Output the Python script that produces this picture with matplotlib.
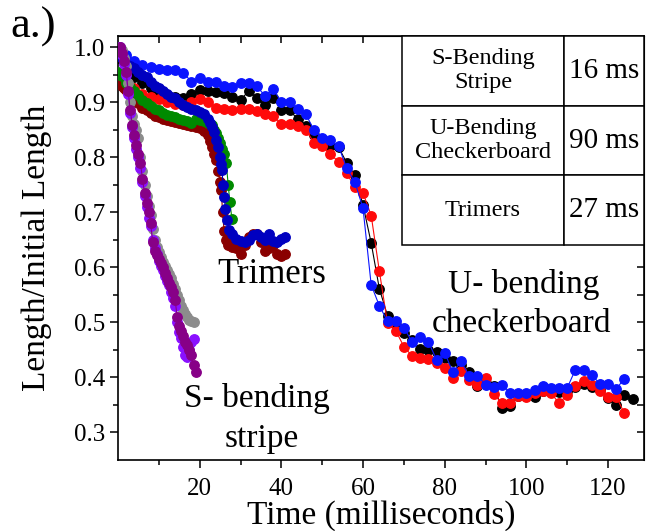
import matplotlib
matplotlib.use("Agg")
import matplotlib.pyplot as plt

plt.rcParams['font.family'] = ['Liberation Serif', 'DejaVu Serif']

# U-bending checkerboard (sampled every 2 ms)
u_time = [0, 2, 4, 6, 8, 10, 12, 14, 16, 18, 20, 22, 24, 26, 28, 30, 32, 34, 36, 38,
          40, 42, 44, 46, 48, 50, 52, 54, 56, 58, 60, 62, 64, 66, 68, 70, 72, 74, 76, 78,
          80, 82, 84, 86, 88, 90, 92, 94, 96, 98, 100, 102, 104, 106, 108, 110, 112, 114,
          116, 118, 120, 122, 124, 126]
u_black = [0.98, 0.96, 0.945, 0.935, 0.925, 0.918, 0.912, 0.91, 0.908, 0.915, 0.922, 0.92,
           0.918, 0.916, 0.909, 0.904, 0.92, 0.907, 0.894, 0.908, 0.885, 0.885, 0.869, 0.857,
           0.84, 0.832, 0.82, 0.818, 0.79, 0.767, 0.713, 0.644, 0.561, 0.512, 0.495, 0.481,
           0.468, 0.452, 0.45, 0.447, 0.435, 0.429, 0.423, 0.41, 0.384, 0.39, 0.384, 0.344,
           0.348, 0.367, 0.367, 0.365, 0.375, 0.375, 0.373, 0.375, 0.382, 0.388, 0.382, 0.378,
           0.362, 0.35, 0.368, 0.361]
u_red = [0.95, 0.935, 0.925, 0.915, 0.91, 0.905, 0.9, 0.897, 0.895, 0.9, 0.905, 0.9,
         0.889, 0.887, 0.886, 0.888, 0.887, 0.883, 0.878, 0.875, 0.86, 0.86, 0.856, 0.85,
         0.826, 0.82, 0.805, 0.792, 0.771, 0.745, 0.735, 0.694, 0.593, 0.498, 0.485, 0.456,
         0.439, 0.435, 0.433, 0.427, 0.417, 0.399, 0.411, 0.395, 0.387, 0.399, 0.37, 0.353,
         0.353, 0.367, 0.365, 0.372, 0.375, 0.372, 0.353, 0.368, 0.385, 0.393, 0.387, 0.375,
         0.365, 0.365, 0.335]
u_blue = [1.0, 0.985, 0.975, 0.968, 0.963, 0.96, 0.958, 0.958, 0.953, 0.937, 0.944, 0.937,
          0.937, 0.93, 0.927, 0.935, 0.935, 0.929, 0.911, 0.924, 0.9, 0.9, 0.887, 0.878,
          0.849, 0.835, 0.831, 0.82, 0.78, 0.755, 0.707, 0.568, 0.53, 0.502, 0.502, 0.49,
          0.465, 0.473, 0.465, 0.432, 0.445, 0.409, 0.429, 0.403, 0.403, 0.387, 0.382, 0.387,
          0.372, 0.372, 0.372, 0.378, 0.385, 0.381, 0.381, 0.381, 0.414, 0.414, 0.405, 0.388,
          0.388, 0.379, 0.398]

# Trimers
t_blue_x = [0, 0.5, 1, 1.5, 2, 3, 4, 5, 6, 7, 8, 9, 10, 11, 12, 13, 14, 15, 16, 17, 18, 19,
            20, 21, 22, 22.5, 23, 23.5, 24, 24.5, 25, 25.3, 25.5, 25.7, 26, 26.3, 26.7, 27.2,
            28, 29, 30, 31, 32, 33, 34, 35, 36, 37, 38, 39, 40, 41]
t_blue_y = [1.0, 0.99, 0.98, 0.975, 0.97, 0.965, 0.962, 0.955, 0.95, 0.945, 0.937, 0.93,
            0.925, 0.92, 0.915, 0.91, 0.907, 0.9, 0.895, 0.891, 0.888, 0.885, 0.882, 0.878,
            0.87, 0.862, 0.855, 0.845, 0.831, 0.818, 0.8, 0.787, 0.776, 0.75, 0.727, 0.706,
            0.685, 0.668, 0.66, 0.652, 0.648, 0.645, 0.65, 0.658, 0.66, 0.655, 0.65, 0.66,
            0.648, 0.645, 0.652, 0.655]
t_red_x = [0.5, 1, 1.5, 2, 3, 4, 5, 6, 7, 8, 9, 10, 11, 12, 13, 14, 15, 16, 17, 18, 19, 20,
           21, 22, 22.5, 23, 23.5, 24, 24.5, 25, 25.3, 25.6, 26, 26.5, 27, 28, 29, 30, 31, 32,
           33, 34, 35, 36, 37, 38, 39, 40, 41]
t_red_y = [0.94, 0.93, 0.925, 0.922, 0.912, 0.905, 0.898, 0.89, 0.885, 0.88, 0.875, 0.872,
           0.87, 0.868, 0.866, 0.864, 0.862, 0.86, 0.858, 0.857, 0.855, 0.853, 0.848, 0.84,
           0.83, 0.818, 0.805, 0.795, 0.775, 0.755, 0.74, 0.7, 0.665, 0.65, 0.64, 0.637, 0.635,
           0.625, 0.64, 0.655, 0.66, 0.66, 0.645, 0.63, 0.635, 0.64, 0.625, 0.62, 0.625]
t_green_x = [0, 0.5, 1, 2, 3, 4, 5, 6, 7, 8, 9, 10, 11, 12, 13, 14, 15, 16, 17, 18, 19, 20,
             21, 22, 23, 23.5, 24, 24.5, 25, 25.5, 26, 26.5, 27, 27.4, 27.9]
t_green_y = [0.955, 0.95, 0.948, 0.935, 0.927, 0.92, 0.912, 0.904, 0.898, 0.893, 0.888,
             0.885, 0.88, 0.877, 0.874, 0.872, 0.87, 0.868, 0.866, 0.862, 0.87, 0.868, 0.865,
             0.862, 0.858, 0.85, 0.844, 0.835, 0.825, 0.815, 0.805, 0.789, 0.749, 0.718, 0.688]

# S-bending stripe (sampled every 0.5 ms)
s_time = [0.5, 1, 1.5, 2, 2.5, 3, 3.5, 4, 4.5, 5, 5.5, 6, 6.5, 7, 7.5, 8, 8.5, 9, 9.5, 10,
          10.5, 11, 11.5, 12, 12.5, 13, 13.5, 14, 14.5, 15, 15.5, 16, 16.5, 17, 17.5, 18,
          18.5, 19]
s_gray = [1.0, 0.995, 0.98, 0.965, 0.935, 0.9, 0.875, 0.86, 0.85, 0.835, 0.8, 0.775, 0.75,
          0.73, 0.712, 0.695, 0.67, 0.65, 0.637, 0.627, 0.618, 0.61, 0.602, 0.595, 0.588,
          0.58, 0.57, 0.56, 0.55, 0.54, 0.53, 0.522, 0.515, 0.51, 0.505, 0.502, 0.5]
s_violet = [1.0, 0.985, 0.97, 0.95, 0.915, 0.88, 0.855, 0.835, 0.815, 0.8, 0.78, 0.755,
            0.73, 0.71, 0.69, 0.675, 0.65, 0.635, 0.625, 0.612, 0.603, 0.595, 0.585, 0.575,
            0.568, 0.556, 0.545, 0.53, 0.5, 0.482, 0.472, 0.455, 0.44, 0.437, 0.45, 0.465, 0.47]
s_purple = [1.0, 0.99, 0.975, 0.955, 0.92, 0.885, 0.858, 0.84, 0.822, 0.806, 0.79, 0.76,
            0.735, 0.716, 0.7, 0.68, 0.645, 0.63, 0.622, 0.615, 0.607, 0.6, 0.59, 0.58,
            0.572, 0.565, 0.555, 0.54, 0.51, 0.493, 0.485, 0.475, 0.465, 0.458, 0.45, 0.44,
            0.422, 0.41]

table_names = ['S-Bending\nStripe', 'U-Bending\nCheckerboard', 'Trimers']
table_times = ['16 ms', '90 ms', '27 ms']

fig = plt.figure(figsize=(6.49, 5.31), dpi=100)
ax = fig.add_axes([0.1818, 0.1337, 0.8105, 0.7985])

def draw(x, y, c):
    ax.plot(x, y, '-', color=c, lw=0.8, marker='o', ms=6.8, mec=c, mfc=c, zorder=3)

draw(u_time, u_black, 'black')
draw(u_time[:len(u_red)], u_red, '#ff0a0a')
draw(u_time[:len(u_blue)], u_blue, '#0a14ff')
draw(t_red_x, t_red_y, '#8a0000')
draw(t_green_x, t_green_y, '#008a00')
draw(t_blue_x, t_blue_y, '#0000c0')
draw(s_time[:len(s_gray)], s_gray, '#8c8c8c')
draw(s_time[:len(s_violet)], s_violet, '#8a10ff')
draw(s_time, s_purple, '#870087')

ax.set_xlim(0, 128.8)
ax.set_ylim(0.25, 1.02)
ax.set_xticks([20, 40, 60, 80, 100, 120])
ax.set_xticks([10, 30, 50, 70, 90, 110], minor=True)
ax.set_yticks([0.3, 0.4, 0.5, 0.6, 0.7, 0.8, 0.9, 1.0])
ax.set_yticks([0.35, 0.45, 0.55, 0.65, 0.75, 0.85, 0.95], minor=True)
ax.tick_params(which='both', direction='out', top=False, right=False, labelsize=18, width=1.1)
ax.tick_params(which='major', length=6)
ax.tick_params(which='minor', length=3.5)
ax.tick_params(axis='x', pad=7)
ax.tick_params(axis='y', pad=3)
for s in ax.spines.values():
    s.set_linewidth(1.2)

top = ax.secondary_xaxis('top')
top.set_xticks([20, 40, 60, 80, 100, 120])
top.set_xticks([10, 30, 50, 70, 90, 110], minor=True)
top.tick_params(which='both', direction='in', labeltop=False, length=5, width=1.1)
right = ax.secondary_yaxis('right')
right.set_yticks([0.3, 0.4, 0.5, 0.6, 0.7, 0.8, 0.9, 1.0])
right.set_yticks([0.35, 0.45, 0.55, 0.65, 0.75, 0.85, 0.95], minor=True)
right.tick_params(which='both', direction='in', labelright=False, length=5, width=1.1)

ax.set_xlabel('Time (milliseconds)', fontsize=24, labelpad=0)
ax.set_ylabel('Length/Initial Length', fontsize=24, labelpad=16)

ax.text(37.6, 0.571, 'Trimers', fontsize=25, ha='center', va='baseline')
ax.text(33.9, 0.3455, 'S- bending', fontsize=24, ha='center', va='baseline')
ax.text(35.3, 0.273, 'stripe', fontsize=24, ha='center', va='baseline')
ax.text(99.3, 0.553, 'U- bending', fontsize=24, ha='center', va='baseline')
ax.text(98.7, 0.482, 'checkerboard', fontsize=24, ha='center', va='baseline')

fig.text(10 / 649, 1 - 38 / 531, 'a.)', fontsize=32, ha='left', va='baseline')

tbl = ax.table(cellText=[[n, t] for n, t in zip(table_names, table_times)],
               colWidths=[0.308, 0.152], bbox=[0.54, 0.507, 0.46, 0.493],
               cellLoc='center', zorder=10)
tbl.auto_set_font_size(False)
for (r, c), cell in tbl.get_celld().items():
    cell.set_linewidth(1.1)
    cell.set_edgecolor('black')
    cell.set_facecolor('white')
    cell.get_text().set_fontfamily('Liberation Serif')
    cell.get_text().set_fontsize(17.5 if c == 0 else 21)

fig.savefig('out.png', dpi=100)
